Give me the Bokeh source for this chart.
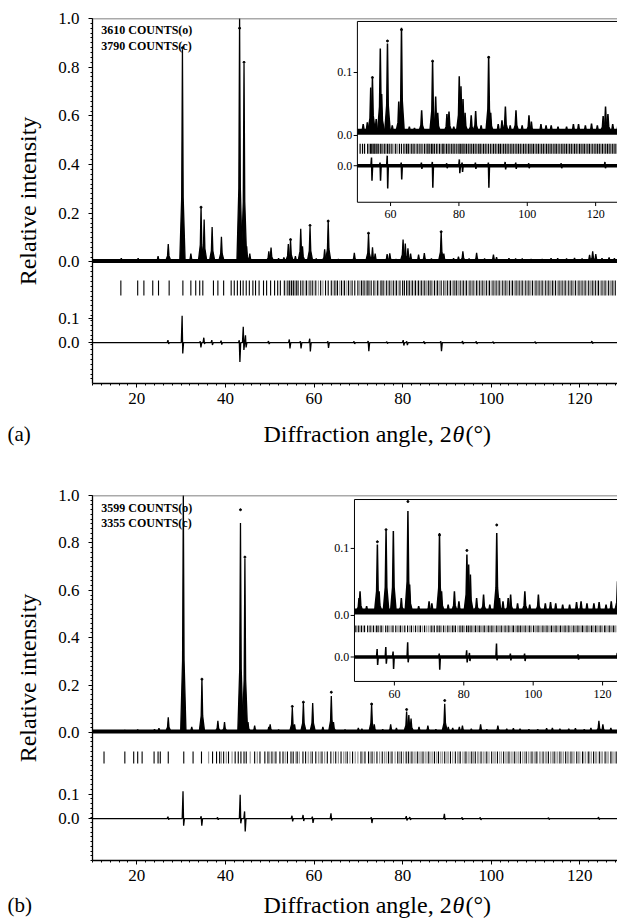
from bokeh.plotting import figure
from bokeh.models import Range1d, FixedTicker, Span
from bokeh.layouts import column
from bokeh.embed import file_html
from bokeh.resources import INLINE
from bokeh.core.properties import value

SERIF = "Liberation Serif"

# ---------------- panel (a) data ----------------
peak_a_pos = [
    16.5, 20.3, 22.6, 24.8, 27.1, 30.3, 32.2, 34.5, 35.2, 37.0,
    39.1, 43.2, 44.2, 44.8, 45.5, 49.8, 50.3, 52.0, 53.2, 54.2,
    54.7, 55.8, 57.0, 57.4, 59.1, 60.5, 62.4, 63.2, 65.5, 67.0,
    69.1, 72.3, 73.2, 73.8, 76.5, 77.1, 78.5, 80.1, 80.6, 81.2,
    81.8, 83.6, 84.9, 86.5, 88.7, 89.3, 91.5, 92.6, 93.6, 95.0,
    96.7, 98.5, 100.5, 101.2, 104.0, 105.5, 107.0, 109.0, 111.5, 113.5,
    115.0, 117.0, 118.8, 120.5, 122.2, 122.9, 123.6, 125.0, 126.6, 127.8]
peak_a_calc = [
    0.012, 0.012, 0.006, 0.020, 0.070, 0.870, 0.030, 0.220, 0.170, 0.140,
    0.100, 1.000, 0.810, 0.060, 0.030, 0.040, 0.055, 0.012, 0.015, 0.070,
    0.085, 0.020, 0.132, 0.060, 0.140, 0.010, 0.048, 0.165, 0.008, 0.006,
    0.034, 0.112, 0.056, 0.030, 0.028, 0.032, 0.008, 0.088, 0.072, 0.052,
    0.030, 0.026, 0.033, 0.010, 0.120, 0.030, 0.012, 0.018, 0.040, 0.010,
    0.034, 0.010, 0.026, 0.016, 0.012, 0.010, 0.010, 0.008, 0.008, 0.012,
    0.012, 0.010, 0.013, 0.010, 0.025, 0.040, 0.028, 0.012, 0.015, 0.012]
obs_a_pos = [30.3, 43.2, 44.2, 34.5, 54.7, 59.1, 72.3, 88.7, 63.2]
obs_a_val = [0.88, 0.96, 0.82, 0.225, 0.092, 0.150, 0.118, 0.124, 0.168]
diff_a_pos = [27.1, 30.3, 34.4, 35.2, 37.0, 39.1, 43.2, 44.1, 44.6, 49.8,
              54.5, 57.0, 59.1, 63.2, 69.1, 72.3, 76.5, 80.2, 81.0, 84.9,
              88.7, 93.6, 96.7, 100.5, 110.0, 122.8]
diff_a_up = [0.010, 0.110, 0.005, 0.020, 0.010, 0.008, 0.010, 0.065, 0.030, 0.006,
             0.013, 0.005, 0.016, 0.005, 0.005, 0.006, 0.004, 0.010, 0.005, 0.005,
             0.005, 0.006, 0.005, 0.004, 0.004, 0.006]
diff_a_dn = [-0.005, -0.045, -0.020, -0.005, -0.010, -0.008, -0.080, -0.030, -0.020, -0.006,
             -0.024, -0.024, -0.036, -0.022, -0.005, -0.035, -0.004, -0.012, -0.010, -0.005,
             -0.035, -0.006, -0.005, -0.004, -0.004, -0.004]
bragg_a_dark = [
    16.4, 20.2, 21.6, 23.6, 24.9, 27.3, 30.4, 32.2, 33.3, 34.2, 34.9, 37.3, 38.3, 39.6,
    41.3, 42.0, 42.7, 43.4, 44.0, 44.7, 45.4, 46.2, 46.8, 47.6, 48.6, 49.3, 50.2, 51.1,
    51.8, 52.4, 53.3, 54.1, 54.5, 54.9, 55.4, 56.0, 56.4, 57.0, 57.5, 58.3, 59.1, 59.6,
    60.4, 61.5, 62.6, 63.2, 63.9, 64.7, 65.3, 66.2, 66.9, 67.8, 68.6, 69.2, 69.9, 70.7,
    71.3, 72.0, 72.4, 72.9, 73.5, 74.3, 75.1, 75.6, 76.4, 77.1, 77.9, 78.6, 79.4, 80.0,
    80.4, 80.9, 81.5, 82.2, 82.9, 83.6, 84.3, 85.0, 85.8, 86.4, 87.2, 87.9, 88.7, 89.3,
    90.1, 90.8, 91.6, 92.2, 93.0, 93.7, 94.4, 95.2, 95.9, 96.7, 97.4, 98.1, 98.9, 99.6,
    100.4, 101.1, 101.8, 102.6, 103.3, 104.1, 104.8, 105.6, 106.3, 107.0, 107.8, 108.5,
    109.3, 110.1, 110.8, 111.5, 112.3, 113.0, 113.8, 114.5, 115.3, 116.0, 116.7, 117.5,
    118.2, 119.0, 119.8, 120.5, 121.2, 122.0, 122.8, 123.5, 124.2, 125.0, 125.7, 126.5,
    127.3, 128.0]
bragg_a_grey = [
    53.7, 55.2, 55.7, 58.0, 58.7, 60.0, 61.0, 62.0, 64.3, 65.0, 65.8, 66.6, 67.4, 68.2,
    70.3, 71.0, 71.7, 73.8, 74.6, 75.3, 76.0, 76.8, 77.5, 78.3, 79.0, 81.2, 81.9, 82.6,
    83.3, 84.0, 84.7, 85.4, 86.1, 86.8, 87.6, 88.3, 89.7, 90.5, 91.2, 91.9, 92.6, 93.4,
    94.1, 94.8, 95.5, 96.3, 97.0, 97.8, 98.5, 99.3, 100.0, 100.7, 101.5, 102.2, 103.0,
    103.7, 104.5, 105.2, 105.9, 106.7, 107.4, 108.2, 108.9, 109.7, 110.4, 111.2, 111.9,
    112.7, 113.4, 114.1, 114.9, 115.6, 116.4, 117.1, 117.9, 118.6, 119.4, 120.1, 120.9,
    121.6, 122.4, 123.1, 123.9, 124.6, 125.4, 126.1, 126.9, 127.6]
counts_a = ["3610 COUNTS(o)", "3790 COUNTS(c)"]

# ---------------- panel (b) data ----------------
peak_b_pos = [
    12.7, 17.3, 20.2, 22.0, 24.0, 25.0, 27.1, 30.5, 32.4, 34.7,
    38.3, 39.8, 43.4, 44.4, 45.1, 46.6, 49.8, 50.1, 52.0, 55.1,
    55.6, 57.6, 59.7, 62.0, 63.9, 64.4, 67.0, 70.0, 70.8, 73.0,
    73.6, 75.5, 77.3, 78.6, 80.9, 81.4, 81.9, 83.7, 85.7, 87.5,
    89.5, 90.3, 91.3, 92.8, 93.5, 95.5, 97.6, 99.0, 101.5, 103.5,
    105.0, 106.5, 108.5, 110.5, 112.5, 113.8, 115.5, 117.5, 119.0, 121.0,
    122.5, 124.3, 125.2, 127.0]
peak_b_calc = [
    0.004, 0.006, 0.008, 0.004, 0.010, 0.014, 0.060, 1.000, 0.020, 0.220,
    0.045, 0.040, 0.880, 0.730, 0.040, 0.025, 0.020, 0.030, 0.008, 0.100,
    0.030, 0.120, 0.120, 0.020, 0.150, 0.040, 0.008, 0.015, 0.012, 0.117,
    0.030, 0.010, 0.030, 0.015, 0.085, 0.070, 0.055, 0.020, 0.025, 0.010,
    0.117, 0.020, 0.015, 0.020, 0.025, 0.012, 0.030, 0.010, 0.025, 0.012,
    0.014, 0.012, 0.010, 0.010, 0.014, 0.015, 0.012, 0.012, 0.014, 0.010,
    0.015, 0.045, 0.030, 0.015]
obs_b_pos = [43.4, 44.4, 34.7, 55.1, 57.6, 63.9, 73.0, 80.9, 89.5]
obs_b_val = [0.94, 0.74, 0.225, 0.110, 0.128, 0.170, 0.120, 0.097, 0.135]
diff_b_pos = [27.1, 30.5, 34.6, 38.3, 43.4, 44.4, 55.1, 57.6, 59.7, 63.9,
              73.0, 80.9, 81.7, 89.5, 93.5, 97.6, 113.0, 124.3]
diff_b_up = [0.008, 0.115, 0.010, 0.005, 0.100, 0.030, 0.012, 0.015, 0.008, 0.022,
             0.005, 0.010, 0.006, 0.020, 0.005, 0.005, 0.004, 0.006]
diff_b_dn = [-0.004, -0.030, -0.030, -0.005, -0.020, -0.055, -0.012, -0.010, -0.018, -0.008,
             -0.019, -0.008, -0.006, -0.005, -0.005, -0.006, -0.004, -0.004]
bragg_b_dark = [
    12.6, 17.3, 19.3, 20.2, 21.2, 23.9, 24.8, 25.3, 27.1, 30.6, 32.7, 34.6, 37.1, 38.0,
    38.7, 39.6, 40.7, 42.2, 42.9, 43.5, 44.2, 44.7, 46.6, 47.8, 48.9, 49.6, 50.5, 51.4,
    52.3, 53.0, 54.0, 54.8, 55.3, 56.2, 57.5, 58.1, 59.6, 60.4, 61.8, 63.0, 63.8, 64.9,
    66.1, 67.5, 68.7, 70.6, 71.5, 72.3, 73.1, 74.2, 75.4, 76.8, 77.6, 78.9, 79.7, 80.8,
    81.3, 82.1, 83.4, 84.6, 85.9, 87.2, 88.1, 89.5, 90.8, 91.9, 93.0, 94.3, 95.6, 96.4,
    97.7, 99.0, 100.1, 101.4, 102.8, 104.0, 105.3, 106.6, 107.9, 109.2, 110.3, 111.7,
    112.9, 114.2, 115.5, 116.8, 118.0, 119.3, 120.6, 121.9, 123.1, 124.4, 125.7, 127.0,
    128.2]
bragg_b_grey = [
    36.2, 39.1, 40.2, 41.5, 45.6, 47.2, 50.0, 51.0, 53.5, 55.9, 56.7, 58.7, 59.2, 61.0,
    61.4, 62.4, 64.4, 65.5, 66.7, 67.1, 68.1, 69.3, 69.9, 71.0, 72.7, 73.6, 74.8, 75.9,
    76.3, 77.2, 78.3, 79.3, 80.2, 81.7, 82.6, 83.0, 83.9, 84.2, 85.1, 85.5, 86.4, 86.8,
    87.7, 88.6, 89.0, 90.0, 90.3, 91.3, 92.4, 92.7, 93.6, 94.0, 94.8, 95.2, 96.0, 96.9,
    97.2, 98.2, 98.6, 99.5, 100.6, 100.9, 101.9, 102.3, 103.3, 103.6, 104.5, 104.9,
    105.8, 106.2, 107.1, 107.5, 108.4, 108.8, 109.7, 110.0, 110.9, 111.2, 112.2, 112.5,
    113.4, 113.8, 114.6, 115.0, 115.9, 116.3, 117.2, 117.5, 118.4, 118.7, 119.7, 120.0,
    120.9, 121.3, 122.2, 122.6, 123.5, 123.8, 124.8, 125.1, 126.1, 126.4, 127.3, 127.7,
    128.5]
counts_b = ["3599 COUNTS(o)", "3355 COUNTS(c)"]

# ---------------- ticks and titles ----------------
xticks = [20, 40, 60, 80, 100, 120]
inset_xticks = [60, 80, 100, 120]
main_ytick_vals = [0.0, 0.2, 0.4, 0.6, 0.8, 1.0]
main_ytick_labels = ["0.0", "0.2", "0.4", "0.6", "0.8", "1.0"]
diff_ytick_vals = [0.0, 0.1]
diff_ytick_labels = ["0.0", "0.1"]
inset_ytick_vals = [0.0, 0.1]
inset_ytick_labels = ["0.0", "0.1"]
ylabel = "Relative intensity"
xlabel_parts = ["Diffraction angle, 2", "\u03b8", "(\u00b0)"]


def peak_shapes(pos, hts, w, base):
    xs, ys = [], []
    for x0, h in zip(pos, hts):
        xs.append([x0 - w, x0 - 0.28 * w, x0, x0 + 0.28 * w, x0 + w])
        ys.append([base, base + 0.3 * h, base + h, base + 0.3 * h, base])
    return xs, ys


def diff_line(pos, up, dn, off, x0, x1):
    xs, ys = [x0], [off]
    for x, u, d in zip(pos, up, dn):
        xs += [x - 0.25, x - 0.07, x + 0.07, x + 0.25]
        ys += [off, off + u, off + d, off]
    xs.append(x1)
    ys.append(off)
    return xs, ys


def make_panel(P, pos, calc, opos, oval, dpos, dup, ddn, bdark, bgrey, counts):
    p = figure(width=617, height=P["height"], x_range=Range1d(10, 128.5),
               y_range=Range1d(*P["yr"]), min_border_left=92, min_border_right=0,
               min_border_top=P["top"], min_border_bottom=P["bottom"],
               output_backend="svg", toolbar_location=None)
    p.extra_x_ranges = {"ix": Range1d(*P["ixr"])}
    p.extra_y_ranges = {"iy": Range1d(*P["iyr"])}
    p.grid.visible = False
    p.outline_line_color = None

    # ---- main pattern
    p.line([10, 131], [0.004, 0.004], line_width=4, color="black")
    xs, ys = peak_shapes(pos, calc, 0.6, 0.004)
    p.patches(xs, ys, fill_color="black", line_color="black", line_width=1.3)
    p.scatter(opos, oval, size=2, color="black")
    b0, b1 = P["bragg"]
    p.segment(x0=bgrey, y0=[b0] * len(bgrey), x1=bgrey, y1=[b1] * len(bgrey),
              line_color="#9a9a9a", line_width=1.2)
    p.segment(x0=bdark, y0=[b0] * len(bdark), x1=bdark, y1=[b1] * len(bdark),
              line_color="black", line_width=1.1)
    dx, dy = diff_line(dpos, dup, ddn, P["doff"], 10, 131)
    p.line(dx, dy, color="black", line_width=1.3)

    # ---- inset
    il = P["ileft"]
    kw = dict(x_range_name="ix", y_range_name="iy")
    p.quad(left=[il], right=[135], bottom=[P["ibot"]], top=[P["itop"]],
           fill_color="white", line_color="black", line_width=1, **kw)
    sel = [i for i, x in enumerate(pos) if x >= il + 0.5]
    xs, ys = peak_shapes([pos[i] for i in sel], [calc[i] for i in sel], 0.8, 0.006)
    p.line([il, 135], [0.006, 0.006], line_width=6, color="black", **kw)
    p.patches(xs, ys, fill_color="black", line_color="black", line_width=1.5, **kw)
    osel = [i for i, x in enumerate(opos) if x >= il + 0.5]
    p.scatter([opos[i] for i in osel], [oval[i] for i in osel], size=2,
              color="black", **kw)
    ib0, ib1 = P["ibragg"]
    g = [x for x in bgrey if x >= il + 0.3]
    d = [x for x in bdark if x >= il + 0.3]
    p.segment(x0=g, y0=[ib0] * len(g), x1=g, y1=[ib1] * len(g),
              line_color="#9a9a9a", line_width=1.4, **kw)
    p.segment(x0=d, y0=[ib0] * len(d), x1=d, y1=[ib1] * len(d),
              line_color="black", line_width=1.2, **kw)
    p.line([il, 135], [P["ioff"], P["ioff"]], line_width=3.5, color="black", **kw)
    dsel = [i for i, x in enumerate(dpos) if x >= il + 0.5]
    dx, dy = diff_line([dpos[i] for i in dsel], [dup[i] for i in dsel],
                       [ddn[i] for i in dsel], P["ioff"], il, 135)
    p.line(dx, dy, color="black", line_width=1.5, **kw)
    iyt = inset_ytick_vals + [P["ioff"]]
    iyl = inset_ytick_labels + ["0.0"]
    p.segment(x0=[il - 1.1] * 3, y0=iyt, x1=[il] * 3, y1=iyt,
              line_color="black", line_width=1, **kw)
    p.text(x=[il - 1.5] * 3, y=iyt, text=iyl, text_align="right",
           text_baseline="middle", text_font=value(SERIF), text_font_size="12px",
           text_color="black", **kw)
    p.segment(x0=inset_xticks, y0=[P["ibot"]] * 4, x1=inset_xticks,
              y1=[P["ibot"] - 0.006] * 4, line_color="black", line_width=1, **kw)
    p.text(x=inset_xticks, y=[P["ibot"] - 0.019] * 4,
           text=[str(t) for t in inset_xticks], text_align="center",
           text_baseline="middle", text_font=value(SERIF), text_font_size="12px",
           text_color="black", **kw)

    # ---- counts text
    p.text(x=[12.0, 12.0], y=list(P["count_y"]), text=counts, text_align="left",
           text_baseline="middle", text_font=value(SERIF), text_font_size="12px",
           text_font_style="bold", text_color="black")

    # ---- top frame line
    p.add_layout(Span(location=P["yr"][1], dimension="width", line_color="#555555",
                      line_width=1.5))

    # ---- axes
    yt = main_ytick_vals + [P["doff"] + v for v in diff_ytick_vals]
    yl = main_ytick_labels + diff_ytick_labels
    yminor = [round(-0.54 + 0.02 * k, 3) for k in range(78)]
    p.yaxis.ticker = FixedTicker(ticks=yt, minor_ticks=yminor)
    p.yaxis.major_label_overrides = dict(zip(yt, yl))
    p.xaxis.ticker = FixedTicker(ticks=xticks, minor_ticks=list(range(10, 130, 2)))
    for ax in (p.xaxis[0], p.yaxis[0]):
        ax.axis_line_color = "black"
        ax.axis_line_width = 1.3
        ax.major_tick_line_color = "black"
        ax.minor_tick_line_color = "black"
        ax.major_tick_out = 4
        ax.major_tick_in = 0
        ax.minor_tick_out = 2
        ax.minor_tick_in = 0
        ax.major_label_text_font = SERIF
        ax.major_label_text_font_size = "17px"
        ax.major_label_text_color = "black"
    p.yaxis.major_label_standoff = 9
    p.xaxis.major_label_standoff = 5
    p.yaxis.axis_label = ylabel
    p.yaxis.axis_label_text_font = SERIF
    p.yaxis.axis_label_text_font_size = "24px"
    p.yaxis.axis_label_text_font_style = "normal"
    p.yaxis.axis_label_text_color = "black"
    p.yaxis.axis_label_standoff = 14
    return p


def make_caption(height, letter, ymid):
    c = figure(width=617, height=height, x_range=Range1d(0, 617),
               y_range=Range1d(0, height), min_border=0, min_border_left=0,
               min_border_right=0, min_border_top=0, min_border_bottom=0,
               x_axis_location=None, y_axis_location=None, output_backend="svg",
               toolbar_location=None)
    if "frame_align" in c.properties():
        c.frame_align = False
    c.grid.visible = False
    c.outline_line_color = None
    c.text(x=[7], y=[ymid], text=[letter], text_baseline="middle",
           text_font=value(SERIF), text_font_size="21px", text_color="black")
    for txt, style, off in zip(xlabel_parts, ["normal", "italic", "normal"],
                               [0, 189, 202]):
        c.text(x=[263], y=[ymid], x_offset=off, text=[txt], text_baseline="middle",
               text_font=value(SERIF), text_font_size="24px",
               text_font_style=style, text_color="black")
    return c


PA = dict(height=418, top=18, bottom=35, yr=(-0.499, 1.0), ixr=(-27.2, 126.4),
          iyr=(-0.3937, 0.1857), ileft=50.3, itop=0.181, ibot=-0.106, ioff=-0.048,
          ibragg=(-0.013, -0.029), bragg=(-0.076, -0.138), doff=-0.331,
          count_y=(0.951, 0.889))
PB = dict(height=418, top=22, bottom=31, yr=(-0.540, 1.0), ixr=(-27.0, 124.3),
          iyr=(-0.3657, 0.179), ileft=48.5, itop=0.173, ibot=-0.0985, ioff=-0.062,
          ibragg=(-0.015, -0.025), bragg=(-0.080, -0.131), doff=-0.363,
          count_y=(0.949, 0.882))

pa = make_panel(PA, peak_a_pos, peak_a_calc, obs_a_pos, obs_a_val, diff_a_pos,
                diff_a_up, diff_a_dn, bragg_a_dark, bragg_a_grey, counts_a)
ca = make_caption(55, "(a)", 40)
pb = make_panel(PB, peak_b_pos, peak_b_calc, obs_b_pos, obs_b_val, diff_b_pos,
                diff_b_up, diff_b_dn, bragg_b_dark, bragg_b_grey, counts_b)
cb = make_caption(27, "(b)", 14)

layout = column(pa, ca, pb, cb)
open("out.html", "w").write(file_html(layout, INLINE))
